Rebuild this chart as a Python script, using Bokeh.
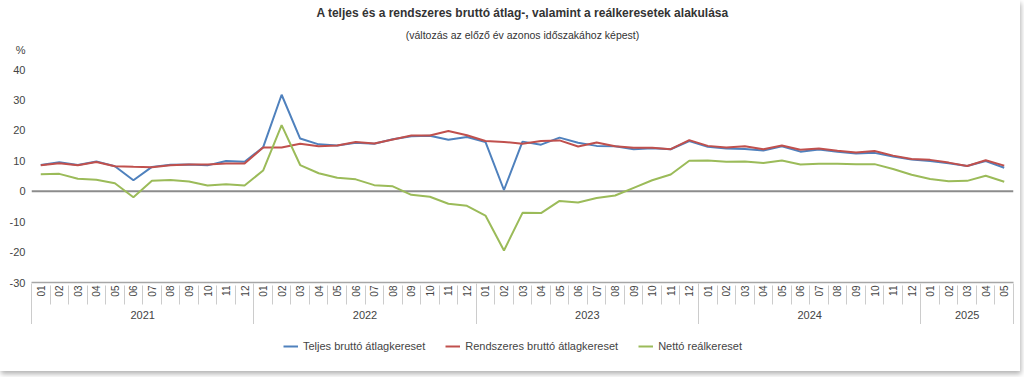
from math import pi
from bokeh.plotting import figure
from bokeh.layouts import column
from bokeh.models import (ColumnDataSource, FixedTicker, LinearAxis, Range1d,
                          Legend, LegendItem, Title, Span)
from bokeh.embed import file_html
from bokeh.resources import INLINE

years = ["2021", "2022", "2023", "2024", "2025"]
months_per_year = [12, 12, 12, 12, 5]
month_labels = [f"{m:02d}" for n in months_per_year for m in range(1, n + 1)]

teljes = [8.6, 9.5, 8.6, 9.8, 8.2, 3.6, 8.0, 8.7, 8.8, 8.5, 9.9, 9.7,
          14.4, 31.7, 17.3, 15.4, 15.0, 15.9, 15.6, 17.1, 18.1, 18.2, 16.9, 17.8,
          16.2, 0.4, 16.3, 15.3, 17.6, 15.9, 14.9, 14.8, 13.8, 14.1, 13.8, 16.5,
          14.6, 14.0, 13.9, 13.4, 14.8, 13.0, 13.7, 13.0, 12.4, 12.6, 11.4, 10.4,
          9.9, 9.2, 8.3, 9.9, 7.7]
rendszeres = [8.5, 9.2, 8.5, 9.6, 8.2, 8.0, 7.9, 8.5, 8.8, 8.8, 9.1, 9.1,
              14.4, 14.4, 15.6, 14.8, 15.0, 16.2, 15.7, 17.0, 18.3, 18.3, 19.8, 18.4,
              16.5, 16.2, 15.6, 16.5, 16.7, 14.7, 16.0, 14.8, 14.3, 14.3, 13.8, 16.8,
              14.9, 14.4, 14.8, 13.8, 15.0, 13.6, 14.0, 13.3, 12.7, 13.2, 11.7, 10.6,
              10.3, 9.4, 8.3, 10.2, 8.4]
netto = [5.6, 5.7, 4.1, 3.8, 2.6, -2.0, 3.4, 3.7, 3.2, 1.9, 2.3, 1.9,
         6.8, 21.7, 8.6, 5.9, 4.4, 3.9, 2.0, 1.6, -1.2, -1.8, -4.1, -4.8,
         -8.0, -19.5, -7.1, -7.2, -3.2, -3.7, -2.2, -1.4, 1.1, 3.6, 5.5, 10.0,
         10.1, 9.7, 9.8, 9.3, 10.1, 8.8, 9.0, 9.0, 8.9, 8.9, 7.3, 5.4,
         4.0, 3.3, 3.4, 5.1, 3.1]
y_ticks = [-30, -20, -10, 0, 10, 20, 30, 40]
y_tick_labels = ["-30", "-20", "-10", "0", "10", "20", "30", "40"]
series_cols = ["teljes", "rendszeres", "netto"]
series_names = ["Teljes bruttó átlagkereset", "Rendszeres bruttó átlagkereset", "Nettó reálkereset"]
colors = ["#4F81BD", "#C0504D", "#9BBB59"]

title_text = "A teljes és a rendszeres bruttó átlag-, valamint a reálkeresetek alakulása"
subtitle_text = "(változás az előző év azonos időszakához képest)"
unit_text = "%"

n = len(month_labels)
xs = list(range(n))
src = ColumnDataSource(dict(x=xs, teljes=teljes, rendszeres=rendszeres, netto=netto))

# layout (pixels)
W = 1020
FL, FW = 31, 982
F_TOP, GRID_TOP, FRAME_BOTTOM = 45, 69, 282
UNIT_Y = 49
MAIN_BOTTOM, TOTAL_H = 323, 370
px_per_unit = (FRAME_BOTTOM - GRID_TOP) / (y_ticks[-1] - y_ticks[0])
y_top = y_ticks[-1] + (GRID_TOP - F_TOP) / px_per_unit
unit_pos = y_ticks[-1] + (GRID_TOP - UNIT_Y) / px_per_unit

x_range = Range1d(-0.5, n - 0.5)
p = figure(output_backend="svg", toolbar_location=None,
           x_range=x_range, y_range=Range1d(y_ticks[0], y_top),
           x_axis_type=None, y_axis_type=None)
p.frame_width = FW
p.frame_height = FRAME_BOTTOM - F_TOP
p.min_border_left = FL
p.min_border_right = W - FL - FW
p.min_border_top = F_TOP
p.min_border_bottom = MAIN_BOTTOM - FRAME_BOTTOM
p.outline_line_color = None
p.background_fill_color = "white"
p.border_fill_color = "white"

# y axis (the unit sign sits as a label above the top tick)
yax = LinearAxis(ticker=FixedTicker(ticks=y_ticks + [unit_pos]))
yax.major_label_overrides = {t: l for t, l in zip(y_ticks, y_tick_labels)}
yax.major_label_overrides[unit_pos] = unit_text
yax.axis_line_color = None
yax.major_tick_out = 0
yax.major_tick_in = 0
yax.major_tick_line_color = None
yax.minor_tick_line_color = None
yax.major_label_text_font = "Liberation Sans"
yax.major_label_text_font_size = "11px"
yax.major_label_text_color = "#444444"
yax.major_label_standoff = 6
p.add_layout(yax, "left")

# grid
p.xgrid.visible = False
p.ygrid.ticker = FixedTicker(ticks=y_ticks)
p.ygrid.grid_line_color = "#d9d9d9"
p.ygrid.grid_line_width = 1.5

boundaries = [i - 0.5 for i in range(n + 1)]
starts = [sum(months_per_year[:k]) for k in range(len(years))]
year_centers = [s + (m - 1) / 2 for s, m in zip(starts, months_per_year)]
year_bounds = [s - 0.5 for s in starts] + [n - 0.5]

# A: month labels
ax_m = LinearAxis(ticker=FixedTicker(ticks=xs, minor_ticks=[]))
ax_m.major_label_overrides = {i: lab for i, lab in enumerate(month_labels)}
ax_m.major_label_orientation = pi / 2
ax_m.major_tick_out = 0
ax_m.major_tick_in = 0
ax_m.major_tick_line_color = None
ax_m.minor_tick_line_color = None
ax_m.axis_line_color = "#a6a6a6"
ax_m.axis_line_width = 1.5
ax_m.major_label_text_font = "Liberation Sans"
ax_m.major_label_text_font_size = "10px"
ax_m.major_label_text_color = "#444444"
ax_m.major_label_standoff = 3
p.add_layout(ax_m, "below")

# B: year labels + month separators
ax_y = LinearAxis(ticker=FixedTicker(ticks=year_centers, minor_ticks=boundaries))
ax_y.major_label_overrides = {c: y for c, y in zip(year_centers, years)}
ax_y.axis_line_color = None
ax_y.major_tick_out = 0
ax_y.major_tick_in = 0
ax_y.major_tick_line_color = None
ax_y.minor_tick_in = 14
ax_y.minor_tick_out = 5
ax_y.minor_tick_line_color = "#cccccc"
ax_y.major_label_text_font = "Liberation Sans"
ax_y.major_label_text_font_size = "11px"
ax_y.major_label_text_color = "#444444"
ax_y.major_label_standoff = 6
p.add_layout(ax_y, "below")

# C: year separators
ax_s = LinearAxis(ticker=FixedTicker(ticks=[], minor_ticks=year_bounds))
ax_s.axis_line_color = None
ax_s.major_tick_out = 0
ax_s.major_tick_in = 0
ax_s.major_label_standoff = 0
ax_s.minor_tick_in = 38
ax_s.minor_tick_out = 3
ax_s.minor_tick_line_color = "#cccccc"
p.add_layout(ax_s, "below")

# zero line
p.add_layout(Span(location=0, dimension="width", line_color="#8c8c8c", line_width=2, level="underlay"))

for col, color in zip(series_cols, colors):
    p.line("x", col, source=src, line_color=color, line_width=2)

sub = Title(text=subtitle_text, align="center", standoff=10,
            text_font="Liberation Sans", text_font_size="10.5px",
            text_font_style="normal", text_color="#333333")
p.add_layout(sub, "above")
p.title.text = title_text
p.title.align = "center"
p.title.standoff = 3
p.title.text_font = "Liberation Sans"
p.title.text_font_size = "12px"
p.title.text_font_style = "bold"
p.title.text_color = "#333333"

# legend strip (same series, view range kept away from the data so only the legend shows)
H2 = TOTAL_H - MAIN_BOTTOM
p2 = figure(width=W, height=H2, output_backend="svg", toolbar_location=None,
            x_range=x_range, y_range=Range1d(1000, 1001),
            x_axis_type=None, y_axis_type=None)
p2.min_border = 0
p2.outline_line_color = None
p2.xgrid.visible = False
p2.ygrid.visible = False
proxies = [p2.line("x", col, source=src, line_color=c, line_width=2)
           for col, c in zip(series_cols, colors)]
legend = Legend(items=[LegendItem(label=nm, renderers=[r]) for nm, r in zip(series_names, proxies)],
                orientation="horizontal", location=(252, 19))
legend.border_line_color = None
legend.background_fill_alpha = 0
legend.label_text_font = "Liberation Sans"
legend.label_text_font_size = "11px"
legend.label_text_color = "#444444"
legend.glyph_width = 15
legend.glyph_height = 12
legend.label_standoff = 5
legend.spacing = 20
legend.margin = 0
legend.padding = 0
p2.add_layout(legend, "center")

layout = column(p, p2, spacing=0, styles={"box-shadow": "1px 3px 5px rgba(0,0,0,0.3)"})
open("out.html", "w").write(file_html(layout, INLINE))
